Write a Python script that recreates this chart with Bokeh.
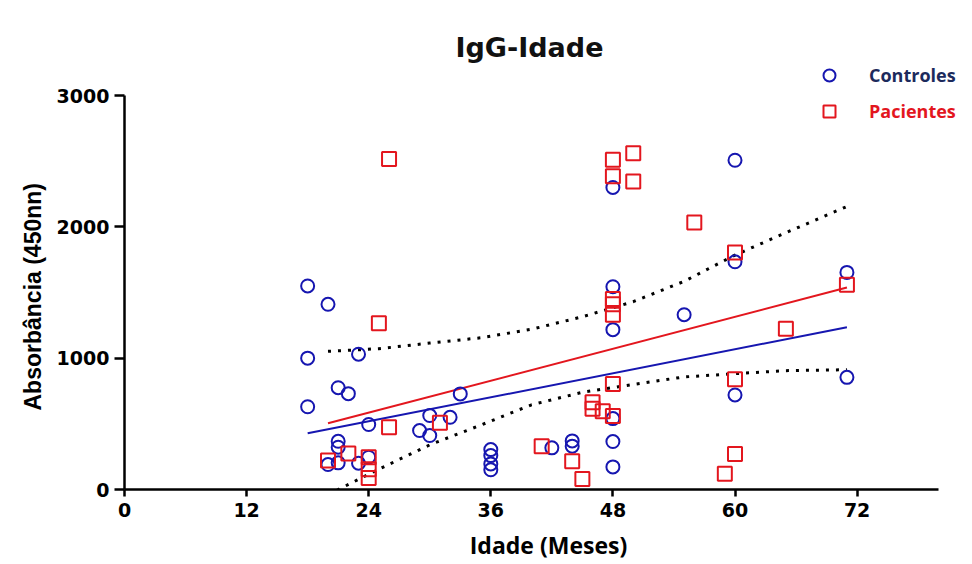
from bokeh.plotting import figure
from bokeh.models import Range1d, FixedTicker, Legend, LegendItem, Label, Title
from bokeh.embed import file_html
from bokeh.resources import INLINE

# ---- data ----
ctrl_age = [18, 20, 18, 23, 21, 22, 18, 24, 21, 21, 20, 21, 23, 24,
            30, 32, 29, 30, 33, 36, 36, 36, 36, 42, 44, 44,
            48, 48, 48, 48, 48, 48, 55, 60, 60, 60, 71, 71]
ctrl_igg = [1550, 1410, 1000, 1030, 775, 730, 630, 495, 367, 322, 190, 203, 200, 246,
            563, 550, 449, 411, 728, 304, 258, 195, 150, 317, 370, 330,
            2300, 1544, 1217, 540, 365, 172, 1331, 2507, 1734, 720, 1653, 854]

pac_age = [26, 25, 26, 20, 22, 24, 24, 24, 31, 41, 44, 45, 46, 46, 47, 48,
           48, 48, 48, 48, 48, 48, 50, 50, 56, 60, 60, 60, 59, 65, 71]
pac_igg = [2517, 1265, 474, 220, 275, 245, 155, 88, 508, 330, 215, 80, 665, 615, 595, 560,
           804, 1450, 1410, 1330, 2510, 2385, 2560, 2345, 2033, 1805, 839, 271, 119, 1224, 1559]

ctrl_fit_x = [18, 71]
ctrl_fit_y = [428, 1235]
pac_fit_x = [20, 71]
pac_fit_y = [504, 1538]

band_x = [20, 25, 30, 35, 40, 45, 50, 55, 60, 65, 71]
band_upper = [1052, 1072, 1115, 1155, 1220, 1315, 1430, 1585, 1785, 1955, 2155]
band_lower = [-40, 155, 340, 490, 645, 740, 800, 857, 882, 905, 912]

x_ticks = [0, 12, 24, 36, 48, 60, 72]
y_ticks = [0, 1000, 2000, 3000]
x_axis_span = (0, 80)
y_axis_span = (0, 3000)

title_text = "IgG-Idade"
x_label = "Idade (Meses)"
y_label = "Absorbância (450nn)"
ctrl_name = "Controles"
pac_name = "Pacientes"

BLUE = "#1616b0"
RED = "#e3161e"
NAVY = "#1c2a5c"

# frame spans the canvas to the right and top edge so the legend fits;
# axis lines are limited with bounds to 0-80 and 0-3000
FRAME_W = 848
FRAME_H = 489
x_end = x_axis_span[1] * FRAME_W / 814.0
y_end = y_axis_span[1] * FRAME_H / 394.0

p = figure(width=972, height=564, output_backend="svg", toolbar_location=None,
           x_range=Range1d(0, x_end), y_range=Range1d(0, y_end),
           min_border_left=124, min_border_right=0, min_border_top=0, min_border_bottom=75)
p.frame_width = FRAME_W
p.frame_height = FRAME_H
p.outline_line_color = None
p.grid.visible = False
p.background_fill_color = "white"
p.border_fill_color = "white"

for ax in (p.xaxis[0], p.yaxis[0]):
    ax.axis_line_width = 2.5
    ax.axis_line_color = "black"
    ax.major_tick_line_width = 2.5
    ax.major_tick_line_color = "black"
    ax.minor_tick_line_color = None
    ax.major_tick_in = 0
    ax.major_label_text_font = "DejaVu Sans"
    ax.major_label_text_font_style = "bold"
    ax.major_label_text_font_size = "19px"
    ax.major_label_text_color = "black"
    ax.axis_label_text_font_style = "bold"
    ax.axis_label_text_color = "black"

p.xaxis.bounds = x_axis_span
p.yaxis.bounds = y_axis_span
p.xaxis.ticker = FixedTicker(ticks=x_ticks)
p.yaxis.ticker = FixedTicker(ticks=y_ticks)
p.xaxis.major_tick_out = 7
p.yaxis.major_tick_out = 10
p.xaxis.major_label_standoff = 6
p.yaxis.major_label_standoff = 5
p.xaxis.axis_label = x_label
p.xaxis.axis_label_text_font = "Open Sans"
p.xaxis.axis_label_text_font_size = "23px"
p.xaxis.axis_label_standoff = 9

# y-axis label as a side title, starting 79 px above the frame bottom
p.add_layout(Title(text=y_label, align="left", offset=79, standoff=16,
                   text_font="Liberation Sans", text_font_size="23px",
                   text_font_style="bold", text_color="black"), "left")

# chart title
p.add_layout(Label(x=39.8, y=3365, text=title_text, text_align="center",
                   text_baseline="alphabetic", text_font="DejaVu Sans",
                   text_font_size="27px", text_font_style="bold", text_color="#111111"))

# regression lines and confidence band
p.line(ctrl_fit_x, ctrl_fit_y, line_color=BLUE, line_width=2)
p.line(pac_fit_x, pac_fit_y, line_color=RED, line_width=2)
p.line(band_x, band_upper, line_color="black", line_width=3, line_dash="3 7")
p.line(band_x, band_lower, line_color="black", line_width=3, line_dash="3 7")

r_ctrl = p.scatter(ctrl_age, ctrl_igg, marker="circle", size=13, fill_color=None,
                   line_color=BLUE, line_width=2)
r_pac = p.scatter(pac_age, pac_igg, marker="square", size=14, fill_color=None,
                  line_color=RED, line_width=2)


def make_legend(item_label, renderer, color, loc):
    lg = Legend(items=[LegendItem(label=item_label, renderers=[renderer])], location=loc)
    lg.border_line_color = None
    lg.background_fill_alpha = 0
    lg.padding = 0
    lg.margin = 0
    lg.glyph_width = 30
    lg.glyph_height = 30
    lg.label_height = 30
    lg.label_standoff = 25
    lg.label_text_font = "Open Sans"
    lg.label_text_font_style = "bold"
    lg.label_text_font_size = "18px"
    lg.label_text_color = color
    return lg


p.add_layout(make_legend(ctrl_name, r_ctrl, NAVY, (690, 399)))
p.add_layout(make_legend(pac_name, r_pac, RED, (690, 363)))

open("out.html", "w").write(file_html(p, INLINE))
